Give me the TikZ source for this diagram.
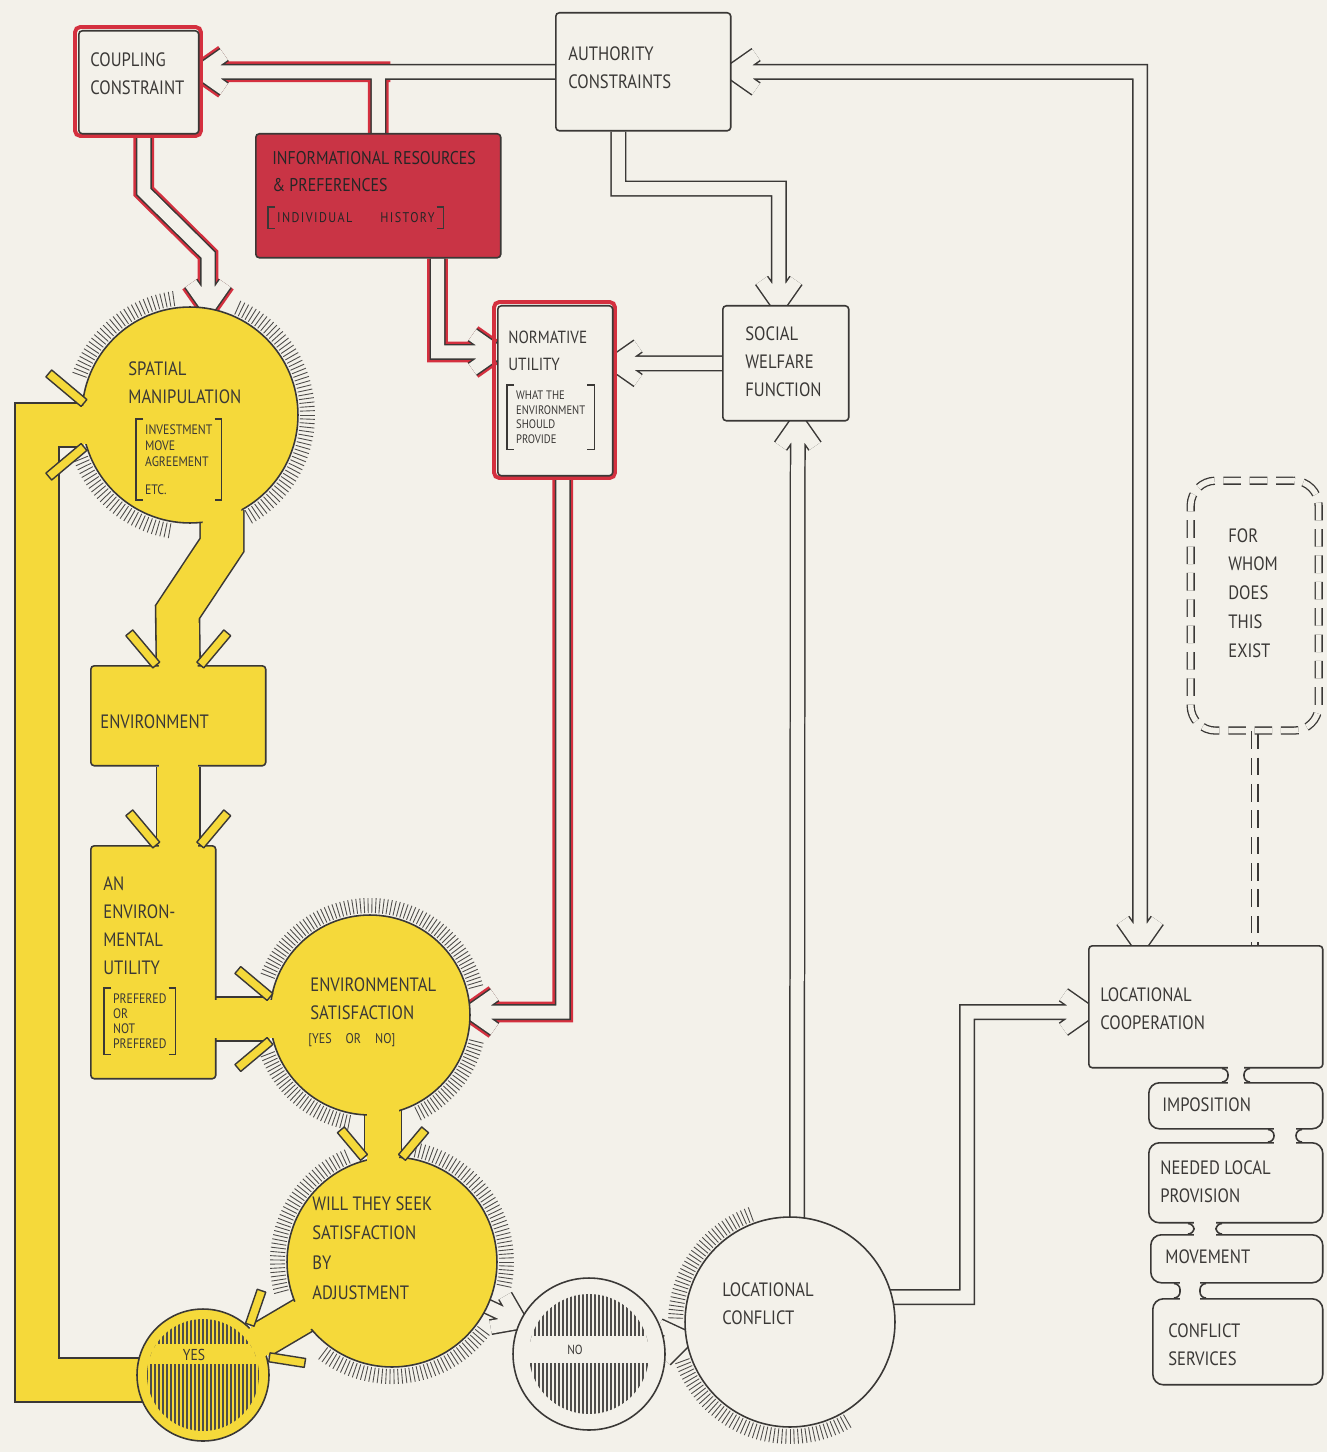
\documentclass[tikz,border=0pt]{standalone}
\usepackage{fontspec}
\setmainfont[FakeStretch=0.86]{PT Sans}
\usetikzlibrary{calc}
\pgfdeclarelayer{paperl}
\pgfdeclarelayer{bg}
\pgfsetlayers{paperl,bg,main}
\definecolor{paper}{HTML}{F3F1EA}
\definecolor{ink}{HTML}{3A3836}
\definecolor{yel}{HTML}{F5D93A}
\definecolor{redf}{HTML}{C93445}
\definecolor{redl}{HTML}{D4303F}
\newcommand\hring[6]{\foreach \a in {#4,#5,...,#6}{\draw[hatchst] ($(#1.center)+(\a:#2)$) -- ($(#1.center)+(\a:#3)$);}}
\newcommand\armbar[4]{\draw[draw=ink, line width=0.8pt, fill=#4, line join=round] ($(#1)+(#2+90:4.5)$) -- ($(#1)+(#2:#3)+(#2+90:4.5)$) -- ($(#1)+(#2:#3)+(#2-90:4.5)$) -- ($(#1)+(#2-90:4.5)$) -- cycle;}
\newcommand\yarms[4]{\coordinate (ya) at ($(#1)+(#2-90:#3)$);\coordinate (yb) at ($(#1)+(#2+90:#3)$);\armbar{ya}{#2+220}{#4}{yel}\armbar{yb}{#2+140}{#4}{yel}}
\newcommand\brackets[1]{%
 \draw[ink, line width=0.7pt] ($(#1.north west)+(7,0)$) -- (#1.north west) -- (#1.south west) -- ++(7,0);
 \draw[ink, line width=0.7pt] ($(#1.north east)+(-7,0)$) -- (#1.north east) -- (#1.south east) -- ++(-7,0);}
% neck between two stacked boxes: upper node, lower node, x offset from upper's west, width
\newcommand\neck[4]{%
 \fill[paper] ($(#1.south west)+(#3-#4/2,-3)$) rectangle ($(#2.north west -| #1.south west)+(#3+#4/2,3)$);
 \draw[ink, line width=0.9pt] ($(#1.south west)+(#3-#4/2-6,0)$) to[out=0,in=90] ($(#1.south west)+(#3-#4/2,6)$) -- ($(#2.north west -| #1.south west)+(#3-#4/2,-6)$) to[out=270,in=0] ($(#2.north west -| #1.south west)+(#3-#4/2-6,0)$);
 \draw[ink, line width=0.9pt] ($(#1.south west)+(#3+#4/2+6,0)$) to[out=180,in=90] ($(#1.south west)+(#3+#4/2,6)$) -- ($(#2.north west -| #1.south west)+(#3+#4/2,-6)$) to[out=270,in=180] ($(#2.north west -| #1.south west)+(#3+#4/2+6,0)$);}
\begin{document}
\begin{tikzpicture}[x=0.02cm, y=-0.02cm,
 lbl/.style={font=\fontsize{11}{16}\selectfont, text=ink, align=left, anchor=north west, inner sep=0pt},
 sml/.style={font=\fontsize{7}{8.5}\selectfont, text=ink, align=left, anchor=north west, inner xsep=5pt, inner ysep=3pt},
 box/.style={draw=ink, line width=0.9pt, fill=paper, rounded corners=2pt, anchor=north west, inner sep=0pt},
 ybox/.style={box, fill=yel},
 rbox/.style={box, fill=redf},
 disc/.style={circle, draw=ink, line width=0.9pt, inner sep=0pt},
 pipe/.style={draw=ink, line width=0.85pt, double=paper, double distance=7.4pt},
 redunder/.style={draw=redl, line width=2.2pt, double=paper, double distance=7.4pt},
 yband/.style={draw=ink, line width=0.9pt, double=yel, double distance=#1},
 yfill/.style={draw=yel, line width=#1, line cap=butt},
 hatchst/.style={draw=ink!90, line width=0.5pt},
 dashbox/.style={draw=ink, line width=0.75pt, double=paper, double distance=3.2pt, dash pattern=on 10pt off 5pt},
 barb/.style 2 args={insert path={($(#1)+(#2+145:30)$) -- (#1) -- ($(#1)+(#2+215:30)$)}},
]
\path[use as bounding box] (0,0) rectangle (1327,1452);
\begin{pgfonlayer}{paperl}
\fill[paper] (0,0) rectangle (1327,1452);
\end{pgfonlayer}

% ---------- boxes ----------
\draw[redl, line width=2.2pt, rounded corners=3pt] (75,27) rectangle (201,136);
\node[box, minimum width=2.4cm, minimum height=2.06cm] (coup) at (78,30) {};
\node[box, minimum width=3.5cm, minimum height=2.36cm] (auth) at (555,12) {};
\node[rbox, minimum width=4.9cm, minimum height=2.48cm] (info) at (255,133) {};
\draw[redl, line width=2.2pt, rounded corners=3pt] (494,302) rectangle (615,478);
\node[box, minimum width=2.3cm, minimum height=3.4cm] (norm) at (497,305) {};
\node[box, minimum width=2.52cm, minimum height=2.3cm] (swf) at (722,305) {};
\node[ybox, minimum width=3.5cm, minimum height=2.0cm] (env) at (90,665) {};
\node[ybox, minimum width=2.5cm, minimum height=4.66cm] (envu) at (90,845) {};
\node[box, minimum width=4.68cm, minimum height=2.44cm] (lcoop) at (1088,945) {};
\node[box, rounded corners=6pt, minimum width=3.48cm, minimum height=0.92cm] (impo) at (1148,1082) {};
\node[box, rounded corners=6pt, minimum width=3.48cm, minimum height=1.6cm] (need) at (1148,1142) {};
\node[box, rounded corners=6pt, minimum width=3.44cm, minimum height=0.96cm] (move) at (1150,1234) {};
\node[box, rounded corners=6pt, minimum width=3.4cm, minimum height=1.72cm] (cserv) at (1152,1298) {};
\node[dashbox, rounded corners=0.5cm, anchor=north west, inner sep=0pt, minimum width=2.56cm, minimum height=5cm] (forwhom) at (1190,480) {};
\neck{lcoop}{impo}{148}{16}
\neck{impo}{need}{137}{22}
\neck{need}{move}{57}{22}
\neck{move}{cserv}{40}{20}

% ---------- circles ----------
\node[disc, fill=yel, minimum size=4.32cm] (spat) at (190,415) {};
\node[disc, fill=yel, minimum size=4.0cm] (esat) at (370,1015) {};
\node[disc, fill=yel, minimum size=4.2cm] (will) at (392,1262) {};
\node[disc, fill=yel, minimum size=2.64cm] (yes) at (203,1375) {};
\node[disc, fill=paper, minimum size=3.04cm] (no) at (589,1354) {};
\node[disc, fill=paper, minimum size=4.2cm] (lconf) at (790,1322) {};

% inner hatching of YES and NO
\begin{scope}
 \clip (yes.center) circle [radius=1.12cm];
 \foreach \dx in {-60,-56,...,60} \draw[hatchst, line width=0.65pt] ($(yes.center)+(\dx,-60)$) -- ($(yes.center)+(\dx,60)$);
 \fill[yel] ($(yes.center)+(-70,-31)$) rectangle ($(yes.center)+(70,-11)$);
\end{scope}
\begin{scope}
 \clip (no.center) circle [radius=1.2cm];
 \foreach \dx in {-62,-58,...,62} \draw[hatchst, line width=0.65pt] ($(no.center)+(\dx,-62)$) -- ($(no.center)+(\dx,62)$);
 \fill[paper] ($(no.center)+(-70,-18)$) rectangle ($(no.center)+(70,9)$);
\end{scope}

% ---------- tip coordinates ----------
\coordinate (t1) at (coup.east |- auth.west);
\coordinate (j2) at (info.north |- auth.west);
\coordinate (t3) at (208,308);
\coordinate (t4) at ($(norm.north west)+(0,47)$);
\coordinate (t5) at ($(swf.north)+(-7,0)$);
\coordinate (t6) at (norm.east |- swf.west);
\coordinate (t7) at ($(swf.south)+(12,0)$);
\coordinate (t8a) at (auth.east);
\coordinate (t8b) at ($(lcoop.north west)+(52,0)$);
\coordinate (t9) at ($(lcoop.north west)+(0,67)$);
\coordinate (t10) at ($(esat.center)+(100,-3)$);
\coordinate (tw1) at ($(no.center)+(205:76)$);
\coordinate (tw2) at ($(lconf.center)+(171:105)$);
\coordinate (ty6) at ($(spat.center)+(-106,10)$);
\coordinate (ty3) at ($(esat.center)+(-100,4)$);
\coordinate (ty4) at ($(will.center)+(-9,-104.6)$);
\coordinate (ty5) at ($(yes.center)+(-31:66)$);
\coordinate (ty2) at (envu.north -| env.south);

% ---------- background layer: hatch rings and connectors ----------
\begin{pgfonlayer}{bg}
\hring{spat}{110}{125}{100}{102}{158}
\hring{spat}{110}{125}{200}{202}{262}
\hring{spat}{110}{125}{294}{296}{420}
\hring{esat}{102}{117}{14}{16}{64}
\hring{esat}{102}{117}{101}{103}{159}
\hring{esat}{102}{117}{201}{203}{346}
\hring{will}{107}{122}{282}{284}{373}
\hring{will}{107}{122}{37}{39}{128}
\hring{will}{107}{122}{165}{167}{248}
\hring{lconf}{107}{122}{60}{62}{160}
\hring{lconf}{107}{122}{182}{184}{250}

% yellow bands
\draw[yband=24pt] ($(spat.center)+(32,95)$) -- ++(0,35) -- (177.5,612) -- (env.north);
\draw[yband=24pt] (env.south) -- (ty2);
\draw[yband=24pt] ($(envu.east |- ty3)+(-5,0)$) -- (ty3);
\draw[yband=20pt] ($(esat.center)+(13,95)$) -- (ty4);
\draw[yband=20pt] ($(will.center)+(149:100)$) -- (ty5);
\draw[yband=24pt] ($(yes.center)+(-60,5)$) -| ($(ty6)+(-47,0)$) -- (ty6);

% red underlays
\draw[redunder] ($(j2)+(12,0)$) -- (t1) [barb={t1}{180}] (info.north) -- (j2);
\draw[redunder] ($(coup.south)+(5,0)$) -- ++(0,57) -- (208,255) -- (t3) [barb={t3}{90}];
\draw[redunder] ($(info.south east)+(-64,0)$) |- (t4) [barb={t4}{0}];
\draw[redunder] ($(norm.south)+(7.5,0)$) |- (t10) [barb={t10}{180}];

% pipes
\draw[pipe] (auth.west) -- (t1) [barb={t1}{180}] (info.north) -- (j2);
\draw[pipe] ($(coup.south)+(5,0)$) -- ++(0,57) -- (208,255) -- (t3) [barb={t3}{90}];
\draw[pipe] ($(info.south east)+(-64,0)$) |- (t4) [barb={t4}{0}];
\draw[pipe] ($(auth.south)+(-25,0)$) -- ++(0,57) -| (t5) [barb={t5}{90}];
\draw[pipe] (swf.west) -- (t6) [barb={t6}{180}];
\draw[pipe] ($(lconf.center)+(7,-100)$) -- (t7) [barb={t7}{270}];
\draw[pipe] (t8b) |- (t8a) [barb={t8a}{180}] [barb={t8b}{90}];
\draw[pipe] ($(lconf.center)+(100,-25)$) -- ++(77,0) |- (t9) [barb={t9}{0}];
\draw[pipe] ($(norm.south)+(7.5,0)$) |- (t10) [barb={t10}{180}];
\draw[pipe] ($(will.center)+(25:100)$) -- (tw1) [barb={tw1}{25}];
\draw[pipe] ($(no.center)+(-8:70)$) -- (tw2) [barb={tw2}{-10}];
\draw[dashbox] (forwhom.south) -- (forwhom.south |- lcoop.north);
\end{pgfonlayer}

% ---------- yellow seams and arrow arms ----------
\draw[yfill=22pt] ($(spat.center)+(32,80)$) -- ($(spat.center)+(32,130)$) -- (177.5,612) -- ($(env.north)+(0,8)$);
\draw[yfill=22pt] ($(env.south)+(0,-8)$) -- ($(ty2)+(0,8)$);
\draw[yfill=22pt] ($(envu.east |- ty3)+(-8,0)$) -- ($(ty3)+(8,0)$);
\draw[yfill=18pt] ($(ty4)+(0,-60)$) -- ($(ty4)+(0,8)$);
\draw[yfill=18pt] ($(will.center)+(149:92)$) -- ($(ty5)+(149:8)$);
\draw[yfill=22pt] ($(ty6)+(-25,0)$) -- ($(ty6)+(8,0)$);
\yarms{env.north}{90}{22}{42}
\yarms{ty2}{90}{22}{42}
\yarms{ty3}{0}{22}{42}
\yarms{ty4}{90}{19}{36}
\yarms{ty5}{149}{19}{36}
\yarms{ty6}{0}{22}{46}

% ---------- texts ----------
\node[lbl] (coupT) at (90,52) {COUPLING\\CONSTRAINT};
\node[lbl] (authT) at (568,46) {AUTHORITY\\CONSTRAINTS};
\node[lbl, font=\fontsize{10.5}{15.5}\selectfont, text=black!85] (infoT) at (272,151) {INFORMATIONAL RESOURCES\\\& PREFERENCES};
\node[sml, font=\fontsize{8}{9}\selectfont\addfontfeature{LetterSpace=10}, text=black!85] (infoB) at (268,207) {INDIVIDUAL\qquad HISTORY};
\brackets{infoB}
\node[lbl, font=\fontsize{10}{15}\selectfont] (normT) at (508,331) {NORMATIVE\\UTILITY};
\node[sml, font=\fontsize{7}{8.4}\selectfont] (normB) at (507,385) {WHAT THE\\ENVIRONMENT\\SHOULD\\PROVIDE};
\brackets{normB}
\node[sml, font=\fontsize{7.8}{9}\selectfont] (spatB) at (136,419) {INVESTMENT\\MOVE\\AGREEMENT\\[7pt]ETC.};
\brackets{spatB}
\node[lbl] (swfT) at (745,326) {SOCIAL\\WELFARE\\FUNCTION};
\node[lbl] (spatT) at (128,361) {SPATIAL\\MANIPULATION};
\node[lbl, anchor=west] (envT) at (100,722) {ENVIRONMENT};
\node[lbl] (envuT) at (103,876) {AN\\ENVIRON-\\MENTAL\\UTILITY};
\node[sml, font=\fontsize{7.8}{8.6}\selectfont] (envuB) at (104,988) {PREFERED\\OR\\NOT\\PREFERED};
\brackets{envuB}
\node[lbl] (esatT) at (310,977) {ENVIRONMENTAL\\SATISFACTION};
\node[lbl, font=\fontsize{8}{10}\selectfont] (esatB) at (308,1033) {[YES\quad OR\quad NO]};
\node[lbl, font=\fontsize{11}{17}\selectfont] (willT) at (312,1196) {WILL THEY SEEK\\SATISFACTION\\BY\\ADJUSTMENT};
\node[font=\fontsize{9}{10}\selectfont, text=ink, inner sep=0pt] (yesT) at (194,1355) {YES};
\node[font=\fontsize{7.5}{9}\selectfont, text=ink, inner sep=0pt] (noT) at (575,1350) {NO};
\node[lbl] (lconfT) at (722,1282) {LOCATIONAL\\CONFLICT};
\node[lbl] (lcoopT) at (1100,987) {LOCATIONAL\\COOPERATION};
\node[lbl, anchor=west] (impoT) at (1162,1105) {IMPOSITION};
\node[lbl] (needT) at (1160,1160) {NEEDED LOCAL\\PROVISION};
\node[lbl, anchor=west] (moveT) at (1165,1257) {MOVEMENT};
\node[lbl] (cservT) at (1168,1323) {CONFLICT\\SERVICES};
\node[lbl, font=\fontsize{11}{16.4}\selectfont] (forT) at (1228,528) {FOR\\WHOM\\DOES\\THIS\\EXIST};
\end{tikzpicture}
\end{document}
